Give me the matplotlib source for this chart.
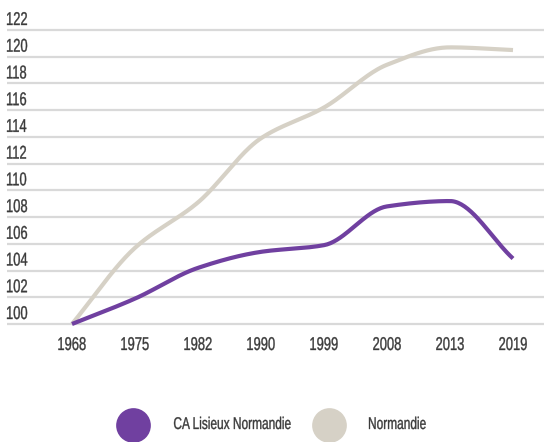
import numpy as np
import matplotlib
matplotlib.use("Agg")
import matplotlib.pyplot as plt
from matplotlib.font_manager import FontProperties
from matplotlib.lines import Line2D
from matplotlib.patches import PathPatch
from matplotlib.textpath import TextPath
from matplotlib.transforms import Affine2D

years = ["1968", "1975", "1982", "1990", "1999", "2008", "2013", "2019"]
lisieux = [100.0, 101.9, 104.2, 105.4, 105.9, 108.8, 109.2, 104.9]
normandie = [100.0, 105.7, 109.1, 113.9, 116.2, 119.4, 120.7, 120.5]
y_ticks = list(range(100, 123, 2))

PURPLE = "#7040a0"
BEIGE = "#d6d1c6"
GRID = "#d9d9d9"
TEXT = "#3a3a3a"

FONT = FontProperties(family="Liberation Sans")
W, H = 544, 442


def smooth(xs, ys, n=40):
    """Monotone cubic (Fritsch-Carlson) curve through the points."""
    xs = np.asarray(xs, float)
    ys = np.asarray(ys, float)
    h = np.diff(xs)
    d = np.diff(ys) / h
    m = np.zeros_like(ys)
    m[0], m[-1] = d[0], d[-1]
    for i in range(1, len(xs) - 1):
        if d[i - 1] * d[i] <= 0:
            m[i] = 0
        else:
            w1 = 2 * h[i] + h[i - 1]
            w2 = h[i] + 2 * h[i - 1]
            m[i] = (w1 + w2) / (w1 / d[i - 1] + w2 / d[i])
    px, py = [], []
    for i in range(len(xs) - 1):
        t = np.linspace(0, 1, n)
        h00 = 2 * t**3 - 3 * t**2 + 1
        h10 = t**3 - 2 * t**2 + t
        h01 = -2 * t**3 + 3 * t**2
        h11 = t**3 - t**2
        px.extend(xs[i] + t * h[i])
        py.extend(h00 * ys[i] + h10 * h[i] * m[i] + h01 * ys[i + 1] + h11 * h[i] * m[i + 1])
    return np.array(px), np.array(py)


def ctext(fig, x, y, s, size=18.5, squeeze=0.7, ha="left"):
    """Condensed-looking text: glyph outlines squeezed horizontally.
    x, y are display pixels (y from bottom), y is the baseline."""
    path = TextPath((0, 0), s, size=size, prop=FONT)
    ext = path.get_extents()
    if ha == "center":
        x0 = x - (ext.x0 + ext.width / 2) * squeeze
    else:
        x0 = x - ext.x0 * squeeze
    tr = Affine2D().scale(squeeze, 1).translate(x0, y)
    patch = PathPatch(path, facecolor=TEXT, edgecolor=TEXT, linewidth=0.25,
                      transform=tr)
    fig.add_artist(patch)


fig = plt.figure(figsize=(W / 100, H / 100), dpi=100)

# axes placed in pixel terms (top-left origin)
left_px, right_px = 7, 544
top_px, bottom_px = 20, 330
ax = fig.add_axes([left_px / W, 1 - bottom_px / H,
                   (right_px - left_px) / W, (bottom_px - top_px) / H])

px_per_unit = (324 - 30) / 22.0
px_per_cat = (513 - 72) / 7.0
ax.set_ylim(100 - (bottom_px - 324) / px_per_unit, 122 + (30 - top_px) / px_per_unit)
ax.set_xlim(-(72 - left_px) / px_per_cat, 7 + (right_px - 513) / px_per_cat)

for v in y_ticks:
    ax.axhline(v, color=GRID, lw=1.6, zorder=1)

x = np.arange(len(years))
sx, sy = smooth(x, normandie)
ax.plot(sx, sy, color=BEIGE, lw=3.0, solid_capstyle="butt", zorder=3)
sx, sy = smooth(x, lisieux)
ax.plot(sx, sy, color=PURPLE, lw=3.0, solid_capstyle="butt", zorder=4)

ax.set_xticks([])
ax.set_yticks([])
for s in ax.spines.values():
    s.set_visible(False)

# y labels sit above their gridline, flush left
for v in y_ticks:
    _, dy = ax.transData.transform((0, v))
    ctext(fig, left_px, dy + 5, str(v))

# x labels, centred under each category
for i, lab in enumerate(years):
    dx, _ = ax.transData.transform((i, 100))
    ctext(fig, dx, H - 350, lab, ha="center")

# legend drawn at the bottom
legend_y = H - 425
for cx, tx, col, label in [(133, 174, PURPLE, "CA Lisieux Normandie"),
                           (329, 369, BEIGE, "Normandie")]:
    fig.add_artist(Line2D([cx / W], [legend_y / H], marker="o", markersize=25,
                          color=col, markeredgewidth=0, transform=fig.transFigure))
    ctext(fig, tx, H - 429, label, size=17)

fig.savefig("out.png", dpi=100)
